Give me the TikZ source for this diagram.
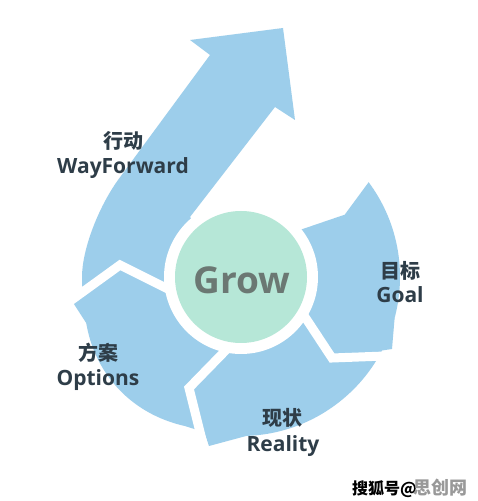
\documentclass[tikz,border=0pt]{standalone}
\usepackage{fontspec}
\setmainfont{Open Sans}
\newfontfamily\cjk{Noto Sans CJK SC}
\usetikzlibrary{calc}
\definecolor{arrowblue}{HTML}{9DCEEB}
\definecolor{growgreen}{HTML}{B6E7D7}
\definecolor{txtdark}{HTML}{2E3D48}
\definecolor{growtxt}{HTML}{6B7873}
\begin{document}
\begin{tikzpicture}[x=1pt,y=1pt,
  cut/.style={white,line width=9pt,line join=miter},
  latin/.style={text=txtdark,font=\fontsize{21}{21}\selectfont\bfseries,anchor=base,inner sep=0pt},
  han/.style={text=txtdark,font=\cjk\fontsize{20}{20}\selectfont\bfseries,inner sep=0pt}]
\useasboundingbox[fill=white] (0,0) rectangle (477,501);
\coordinate (O) at (241,224);
% main blue shape: ring + big arrow
\fill[arrowblue] ($(O)+(36.6:159)$) arc[start angle=36.6, end angle=-180, radius=159]
  .. controls (82,251) and (98,293) .. (118,321)
  -- (210,446) -- (190,461) -- (283,473) -- (295,381) -- (275,394)
  -- (190,284) -- (O) -- ($(O)+(39:74)$) -- ($(O)+(31:121)$) -- cycle;
% slight outward bulge of the Options segment
\fill[arrowblue] (O) -- plot[domain=105:175,samples=40]
  ({241+(157+9*sin((\x-105)*180/70))*cos(\x)}, {224-(157+9*sin((\x-105)*180/70))*sin(\x)}) -- cycle;
% barbs
\fill[arrowblue] (394.6,182.8) -- (392,152) -- (332,143) -- cycle;
\fill[arrowblue] (246.5,65.1) -- (209,55) -- (189,113) -- cycle;
\fill[arrowblue] (91.6,169.6) -- (72,200) -- (120,236) -- cycle;
% cuts between segments
\draw[cut] (291,205) -- (305,184) -- (332,143) -- (412,146);
\draw[cut] (243,168) -- (228,153) -- (189,113) -- (207,41) -- (210,28);
\draw[cut] (190,201) -- (170,211) -- (120,236) -- (73,202) -- (55,189);
% centre
\fill[white] (O) circle[radius=77];
\node[circle,fill=growgreen,minimum size=132pt,inner sep=0pt] (grow) at (O) {};
\node[text=growtxt,font=\fontsize{37}{37}\selectfont\bfseries,anchor=base,inner sep=0pt] (growtext) at (242,207) {Grow};
% labels
\node[han] (wf1) at (123,360) {行动};
\node[latin] (wf2) at (123,327) {WayForward};
\node[han] (g1) at (400,230) {目标};
\node[latin] (g2) at (400,198) {Goal};
\node[han] (o1) at (98,148) {方案};
\node[latin] (o2) at (98,115) {Options};
\node[han] (r1) at (282,83) {现状};
\node[latin] (r2) at (283,49) {Reality};
% watermark
\node[font=\cjk\fontsize{16}{16}\selectfont\bfseries,anchor=base west,inner sep=0pt] (wm1) at (352,6) {搜狐号@};
\node[text=gray!80,font=\cjk\fontsize{18}{18}\selectfont\bfseries,anchor=base west,inner sep=0pt] (wm2) at (413,6) {思创网};
\end{tikzpicture}
\end{document}
